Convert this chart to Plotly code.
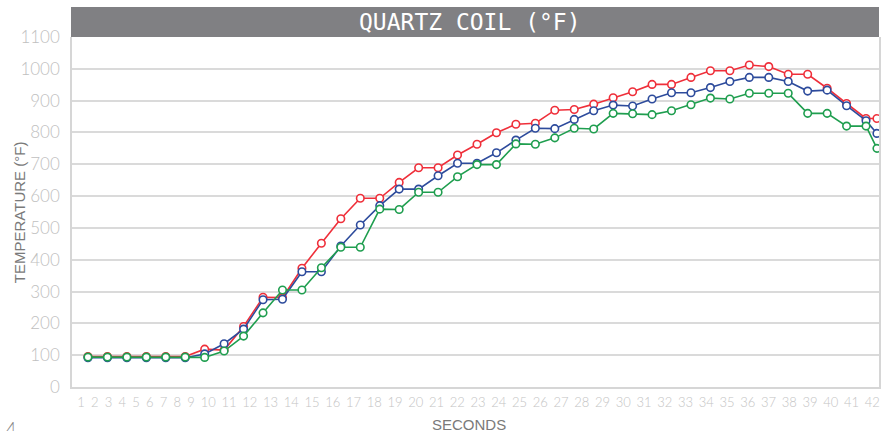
import plotly.graph_objects as go

# ---------------- data ----------------
seconds_labels = [str(i) for i in range(1, 43)]
sample_time = [1, 2, 3, 4, 5, 6, 7, 8, 9, 10, 11, 12, 13, 14, 15, 16, 17, 18, 19, 20,
               21, 22, 23, 24, 25, 26, 27, 28, 29, 30, 31, 32, 33, 34, 35, 36, 37, 38,
               39, 40, 41, 41.56]
red_series = [96, 96, 96, 96, 96, 96, 119, 116, 190, 282, 281, 373, 452, 529, 593, 593,
              643, 689, 689, 729, 763, 799, 826, 829, 870, 872, 889, 909, 928, 951, 951,
              973, 994, 994, 1012, 1007, 983, 983, 939, 891, 844, 844]
blue_series = [92, 92, 92, 92, 92, 92, 104, 136, 182, 274, 276, 362, 362, 443, 509, 570,
               622, 622, 664, 703, 703, 736, 776, 813, 812, 841, 868, 886, 883, 905, 925,
               925, 941, 960, 973, 973, 960, 930, 933, 884, 837, 797]
green_series = [94, 94, 94, 94, 94, 94, 93, 113, 160, 233, 305, 305, 375, 439, 439, 559,
                558, 612, 612, 661, 699, 699, 764, 763, 783, 813, 811, 860, 859, 856, 868,
                887, 908, 905, 923, 923, 923, 860, 860, 820, 820, 750]
y_ticks = list(range(0, 1101, 100))

# ---------------- layout helpers ----------------
W, H = 881, 431
L, R, T, B = 72, 0, 37, 44
PW, PH = W - L - R, H - T - B
first_px, unit_px = 88.0, 19.5


def px_to_u(px):
    return 1 + (px - first_px) / unit_px


x_range = [px_to_u(L), px_to_u(W - R)]

# tick labels laid out like a spaced run of text
tick_px = []
p = 81.0
for i, lab in enumerate(seconds_labels):
    if i > 0:
        p += (len(seconds_labels[i - 1]) + len(lab)) / 2 * 7.0 + 6.8
    tick_px.append(p)
tickvals = [px_to_u(v) for v in tick_px]

fig = go.Figure()
for name, vals, col in [("Red", red_series, "#ef2f3a"),
                        ("Blue", blue_series, "#2d4b9c"),
                        ("Green", green_series, "#1f9e4f")]:
    fig.add_trace(go.Scatter(
        x=sample_time, y=vals, mode="lines+markers", name=name,
        line=dict(color=col, width=1.6),
        marker=dict(symbol="circle", size=7.5, color="white",
                    line=dict(color=col, width=1.6)),
        showlegend=False, cliponaxis=True))

fig.update_layout(
    width=W, height=H,
    margin=dict(l=L, r=R, t=T, b=B, pad=0),
    paper_bgcolor="white", plot_bgcolor="white",
    xaxis=dict(range=x_range, tickmode="array", tickvals=tickvals,
               ticktext=seconds_labels, showgrid=False, zeroline=False,
               showline=True, linecolor="#d6d6d6", linewidth=1.5,
               ticks="", tickfont=dict(family="Lato", size=13, color="#c4c4c4", weight=300),
               ticklabelstandoff=3),
    yaxis=dict(range=[0, 1100], tickmode="array", tickvals=y_ticks,
               showgrid=True, gridcolor="#dadada", gridwidth=1.5,
               zeroline=False, showline=True, linecolor="#d6d6d6", linewidth=1.5,
               mirror=True, ticks="",
               tickfont=dict(family="Lato", size=17, color="#c0c0c0", weight=300),
               ticklabelstandoff=7),
    shapes=[dict(type="rect", xref="paper", yref="paper",
                 x0=(71 - L) / PW, x1=1, y0=1, y1=1 + 30 / PH,
                 fillcolor="#808083", line=dict(width=0), layer="above")],
    annotations=[
        dict(text="QUARTZ COIL (°F)", xref="paper", yref="paper",
             x=(471 - L) / PW, y=1 + 15 / PH, xanchor="center", yanchor="middle",
             showarrow=False,
             font=dict(family="DejaVu Sans Mono", size=23, color="white")),
        dict(text="TEMPERATURE (°F)", xref="paper", yref="paper",
             x=(19 - L) / PW, y=0.5, xanchor="center", yanchor="middle",
             textangle=-90, showarrow=False,
             font=dict(family="Liberation Sans", size=15, color="#7a7a7a")),
        dict(text="SECONDS", xref="paper", yref="paper",
             x=(469.5 - L) / PW, y=0, xanchor="center", yanchor="middle",
             yshift=-37, showarrow=False,
             font=dict(family="Liberation Sans", size=15, color="#7a7a7a")),
        dict(text="4", xref="paper", yref="paper",
             x=(11 - L) / PW, y=0, xanchor="center", yanchor="middle",
             yshift=-41, showarrow=False,
             font=dict(family="Lato", size=18, color="#888888", weight=300)),
    ],
)

fig.write_html("out.html",
               config={"displayModeBar": False},
               post_script="document.body.style.margin='0px';"
                           "document.body.style.overflow='hidden';")
